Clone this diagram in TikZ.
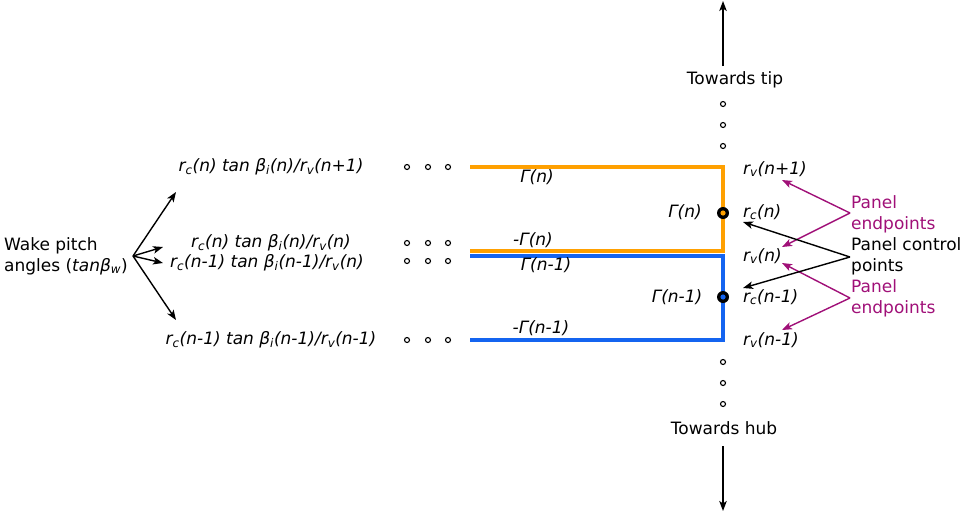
\documentclass[tikz,border=0pt]{standalone}
\usepackage{fontspec}
\setmainfont{DejaVu Sans}
\usetikzlibrary{arrows.meta}
\definecolor{wakeorange}{RGB}{255,160,0}
\definecolor{wakeblue}{RGB}{20,100,240}
\definecolor{panelpurple}{RGB}{160,16,120}
\newcommand{\lsub}[1]{\textsubscript{#1}}
\tikzset{
  lbl/.style={inner sep=0pt, font=\fontsize{17}{21}\selectfont\itshape},
  txt/.style={inner sep=0pt, font=\fontsize{17}{21}\selectfont, align=left},
  pnl/.style={txt, text=panelpurple},
  ring/.style={circle, draw=black, line width=1.1pt, fill=white, inner sep=0pt, minimum size=5pt},
  arr/.style={-{Stealth[length=10pt,width=7.5pt,inset=2.5pt]}, line width=1.4pt},
  parr/.style={arr, draw=panelpurple},
  sheet/.style={line width=4.5pt},
  cpt/.style={circle, fill=black, inner sep=0pt, minimum size=12pt},
}
\begin{document}
\begin{tikzpicture}[x=1pt,y=-1pt]
\useasboundingbox (0,0) rectangle (965,512);

% horseshoe vortex of panel n (orange) and n-1 (blue)
\coordinate (oTL) at (470,167);
\coordinate (oTR) at (723,167);
\coordinate (oBR) at (723,251);
\coordinate (oBL) at (470,251);
\coordinate (bTL) at (470,256);
\coordinate (bTR) at (723,256);
\coordinate (bBR) at (723,340);
\coordinate (bBL) at (470,340);
\draw[sheet, wakeorange, line join=miter] (oTL) -- (oTR) -- (oBR) -- (oBL);
\draw[sheet, wakeblue, line join=miter] (bTL) -- (bTR) -- (bBR) -- (bBL);

% control points
\node[cpt] (cn) at (723,213) {};
\fill[wakeorange] (cn.center) circle (2.6pt);
\node[cpt] (cm) at (723,297) {};
\fill[wakeblue] (cm.center) circle (2.6pt);

% circulation labels
\node[lbl] (g1) at (537,177) {Γ(n)};
\node[lbl] (g2) at (533,240) {-Γ(n)};
\node[lbl] (g3) at (546,265) {Γ(n-1)};
\node[lbl] (g4) at (541,328) {-Γ(n-1)};
\node[lbl] (g5) at (685,212) {Γ(n)};
\node[lbl] (g6) at (677,297) {Γ(n-1)};

% radial positions
\node[lbl, anchor=west] (rv1) at (743,169) {r\lsub{v}(n+1)};
\node[lbl, anchor=west] (rc1) at (743,212) {r\lsub{c}(n)};
\node[lbl, anchor=west] (rv2) at (743,256) {r\lsub{v}(n)};
\node[lbl, anchor=west] (rc2) at (743,297) {r\lsub{c}(n-1)};
\node[lbl, anchor=west] (rv3) at (743,340) {r\lsub{v}(n-1)};

% panel annotations
\node[pnl, anchor=west] (pe1) at (851,214) {Panel\\endpoints};
\node[txt, anchor=west] (pc) at (851,256) {Panel control\\points};
\node[pnl, anchor=west] (pe2) at (851,298) {Panel\\endpoints};
\coordinate (pe1o) at (850,213);
\coordinate (pe2o) at (850,298);
\coordinate (pco) at (850,257);
\draw[parr] (pe1o) -- (782,180);
\draw[parr] (pe1o) -- (782,247);
\draw[parr] (pe2o) -- (782,263);
\draw[parr] (pe2o) -- (782,330);
\draw[arr] (pco) -- (743,222);
\draw[arr] (pco) -- (743,288);

% tip and hub directions
\node[txt] (tip) at (735,80) {Towards tip};
\node[txt] (hub) at (724,428) {Towards hub};
\coordinate (tipend) at (723,1);
\coordinate (hubend) at (723,511);
\draw[arr] (723,66) -- (tipend);
\draw[arr] (723,446) -- (hubend);
\foreach \y in {104,125,146,362,383,404} \node[ring] at (723,\y) {};

% wake pitch ratios
\node[txt] (wake) at (66,256) {Wake pitch\\angles (\textit{tanβ\lsub{w}})};
\node[lbl] (w1) at (271,167) {r\lsub{c}(n) tan β\lsub{i}(n)/r\lsub{v}(n+1)};
\node[lbl] (w2) at (271,243) {r\lsub{c}(n) tan β\lsub{i}(n)/r\lsub{v}(n)};
\node[lbl] (w3) at (267,263) {r\lsub{c}(n-1) tan β\lsub{i}(n-1)/r\lsub{v}(n)};
\node[lbl] (w4) at (271,340) {r\lsub{c}(n-1) tan β\lsub{i}(n-1)/r\lsub{v}(n-1)};
\coordinate (wo) at (133,256);
\draw[arr] (wo) -- (176,192);
\draw[arr] (wo) -- (163,247);
\draw[arr] (wo) -- (163,263);
\draw[arr] (wo) -- (176,320);
\foreach \y in {167,243,261,340} \foreach \x in {407,428,448} \node[ring] at (\x,\y) {};
\end{tikzpicture}
\end{document}
